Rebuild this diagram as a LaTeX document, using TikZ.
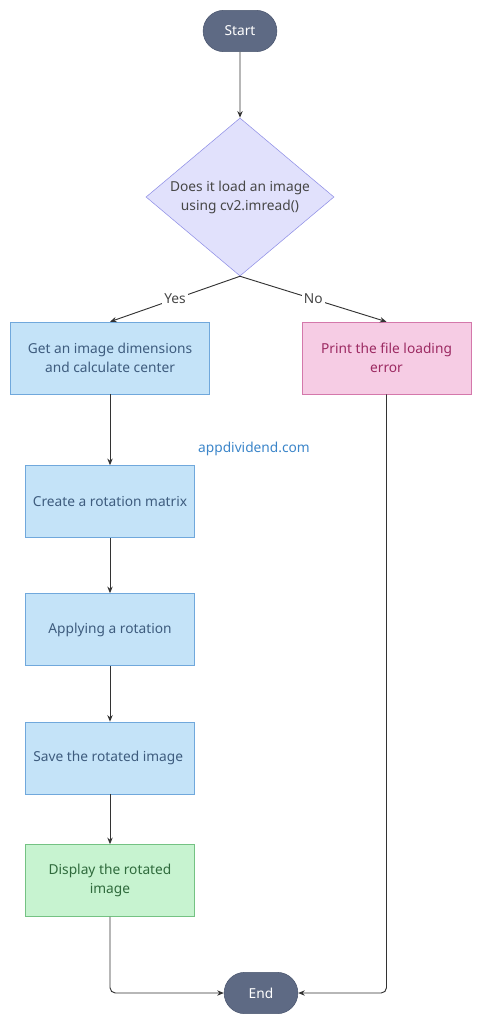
\documentclass[tikz,border=0pt]{standalone}
\usepackage{fontspec}
\setmainfont{Noto Sans}
\usetikzlibrary{arrows.meta, shapes.geometric, shapes.misc}

\definecolor{termfill}{HTML}{5E6A84}
\definecolor{termline}{HTML}{4B566F}
\definecolor{decfill}{HTML}{E1E1FC}
\definecolor{decline}{HTML}{8F8FE6}
\definecolor{stepfill}{HTML}{C4E3F8}
\definecolor{stepline}{HTML}{70A8DC}
\definecolor{steptext}{HTML}{3E5C7E}
\definecolor{errfill}{HTML}{F6CCE4}
\definecolor{errline}{HTML}{D478AB}
\definecolor{errtext}{HTML}{9C2A62}
\definecolor{okfill}{HTML}{C7F3D0}
\definecolor{okline}{HTML}{74C283}
\definecolor{oktext}{HTML}{2F6A3C}
\definecolor{wire}{HTML}{333333}
\definecolor{mark}{HTML}{3B85C9}

\newcommand{\boxfont}{\fontsize{10.3}{14.2}\selectfont}

\tikzset{
  terminal/.style={draw=termline, fill=termfill, rounded rectangle,
    minimum width=62pt, minimum height=31pt, text=white, font=\boxfont},
  decision/.style={draw=decline, fill=decfill, diamond, aspect=1.19,
    inner xsep=-8pt, inner ysep=0pt,
    minimum width=141pt, minimum height=118.5pt, align=center,
    text=black!72, font=\boxfont},
  stepbox/.style={draw=stepline, fill=stepfill, minimum height=54pt,
    minimum width=126.75pt, align=center, text=steptext, font=\boxfont},
  flow/.style={draw=wire, -{Stealth[length=5pt, width=4pt]}, line width=0.7pt},
  answer/.style={fill=white, text=black!72, font=\boxfont, inner sep=1.5pt}
}

\begin{document}
\begin{tikzpicture}[x=0.75pt, y=-0.75pt]

\useasboundingbox (0,0) rectangle (481,1024);

\node[terminal] (start) at (240,31) {Start};

\node[decision] (load) at (240,197) {Does it load an image\\using cv2.imread()};

\node[stepbox, minimum width=149.25pt] (dims) at (110,358)
  {Get an image dimensions\\and calculate center};

\node[stepbox, draw=errline, fill=errfill, text=errtext] (err) at (386.5,358)
  {Print the file loading\\error};

\node[text=mark, font=\boxfont] (site) at (254,449) {appdividend.com};

\foreach \idx/\y/\lab in {
  1/501.5/{Create a rotation matrix},
  2/629.5/{Applying a rotation},
  3/758/{Save the rotated image}
}{
  \node[stepbox] (S\idx) at (110,\y) {\lab};
}

\node[stepbox, draw=okline, fill=okfill, text=oktext] (show) at (110,880.5)
  {Display the rotated\\image};

\node[terminal] (stop) at (261,993) {End};

% connectors
\draw[flow] (start) -- (load);
\draw[flow] (load.south) -- node[answer] {Yes} (dims.north);
\draw[flow] (load.south) -- node[answer] {No} (err.north);
\draw[flow] (dims) -- (S1);
\draw[flow] (S1) -- (S2);
\draw[flow] (S2) -- (S3);
\draw[flow] (S3) -- (show);
\draw[flow, rounded corners=4pt] (show.south) |- (stop.west);
\draw[flow, rounded corners=4pt] (err.south) |- (stop.east);

\end{tikzpicture}
\end{document}
